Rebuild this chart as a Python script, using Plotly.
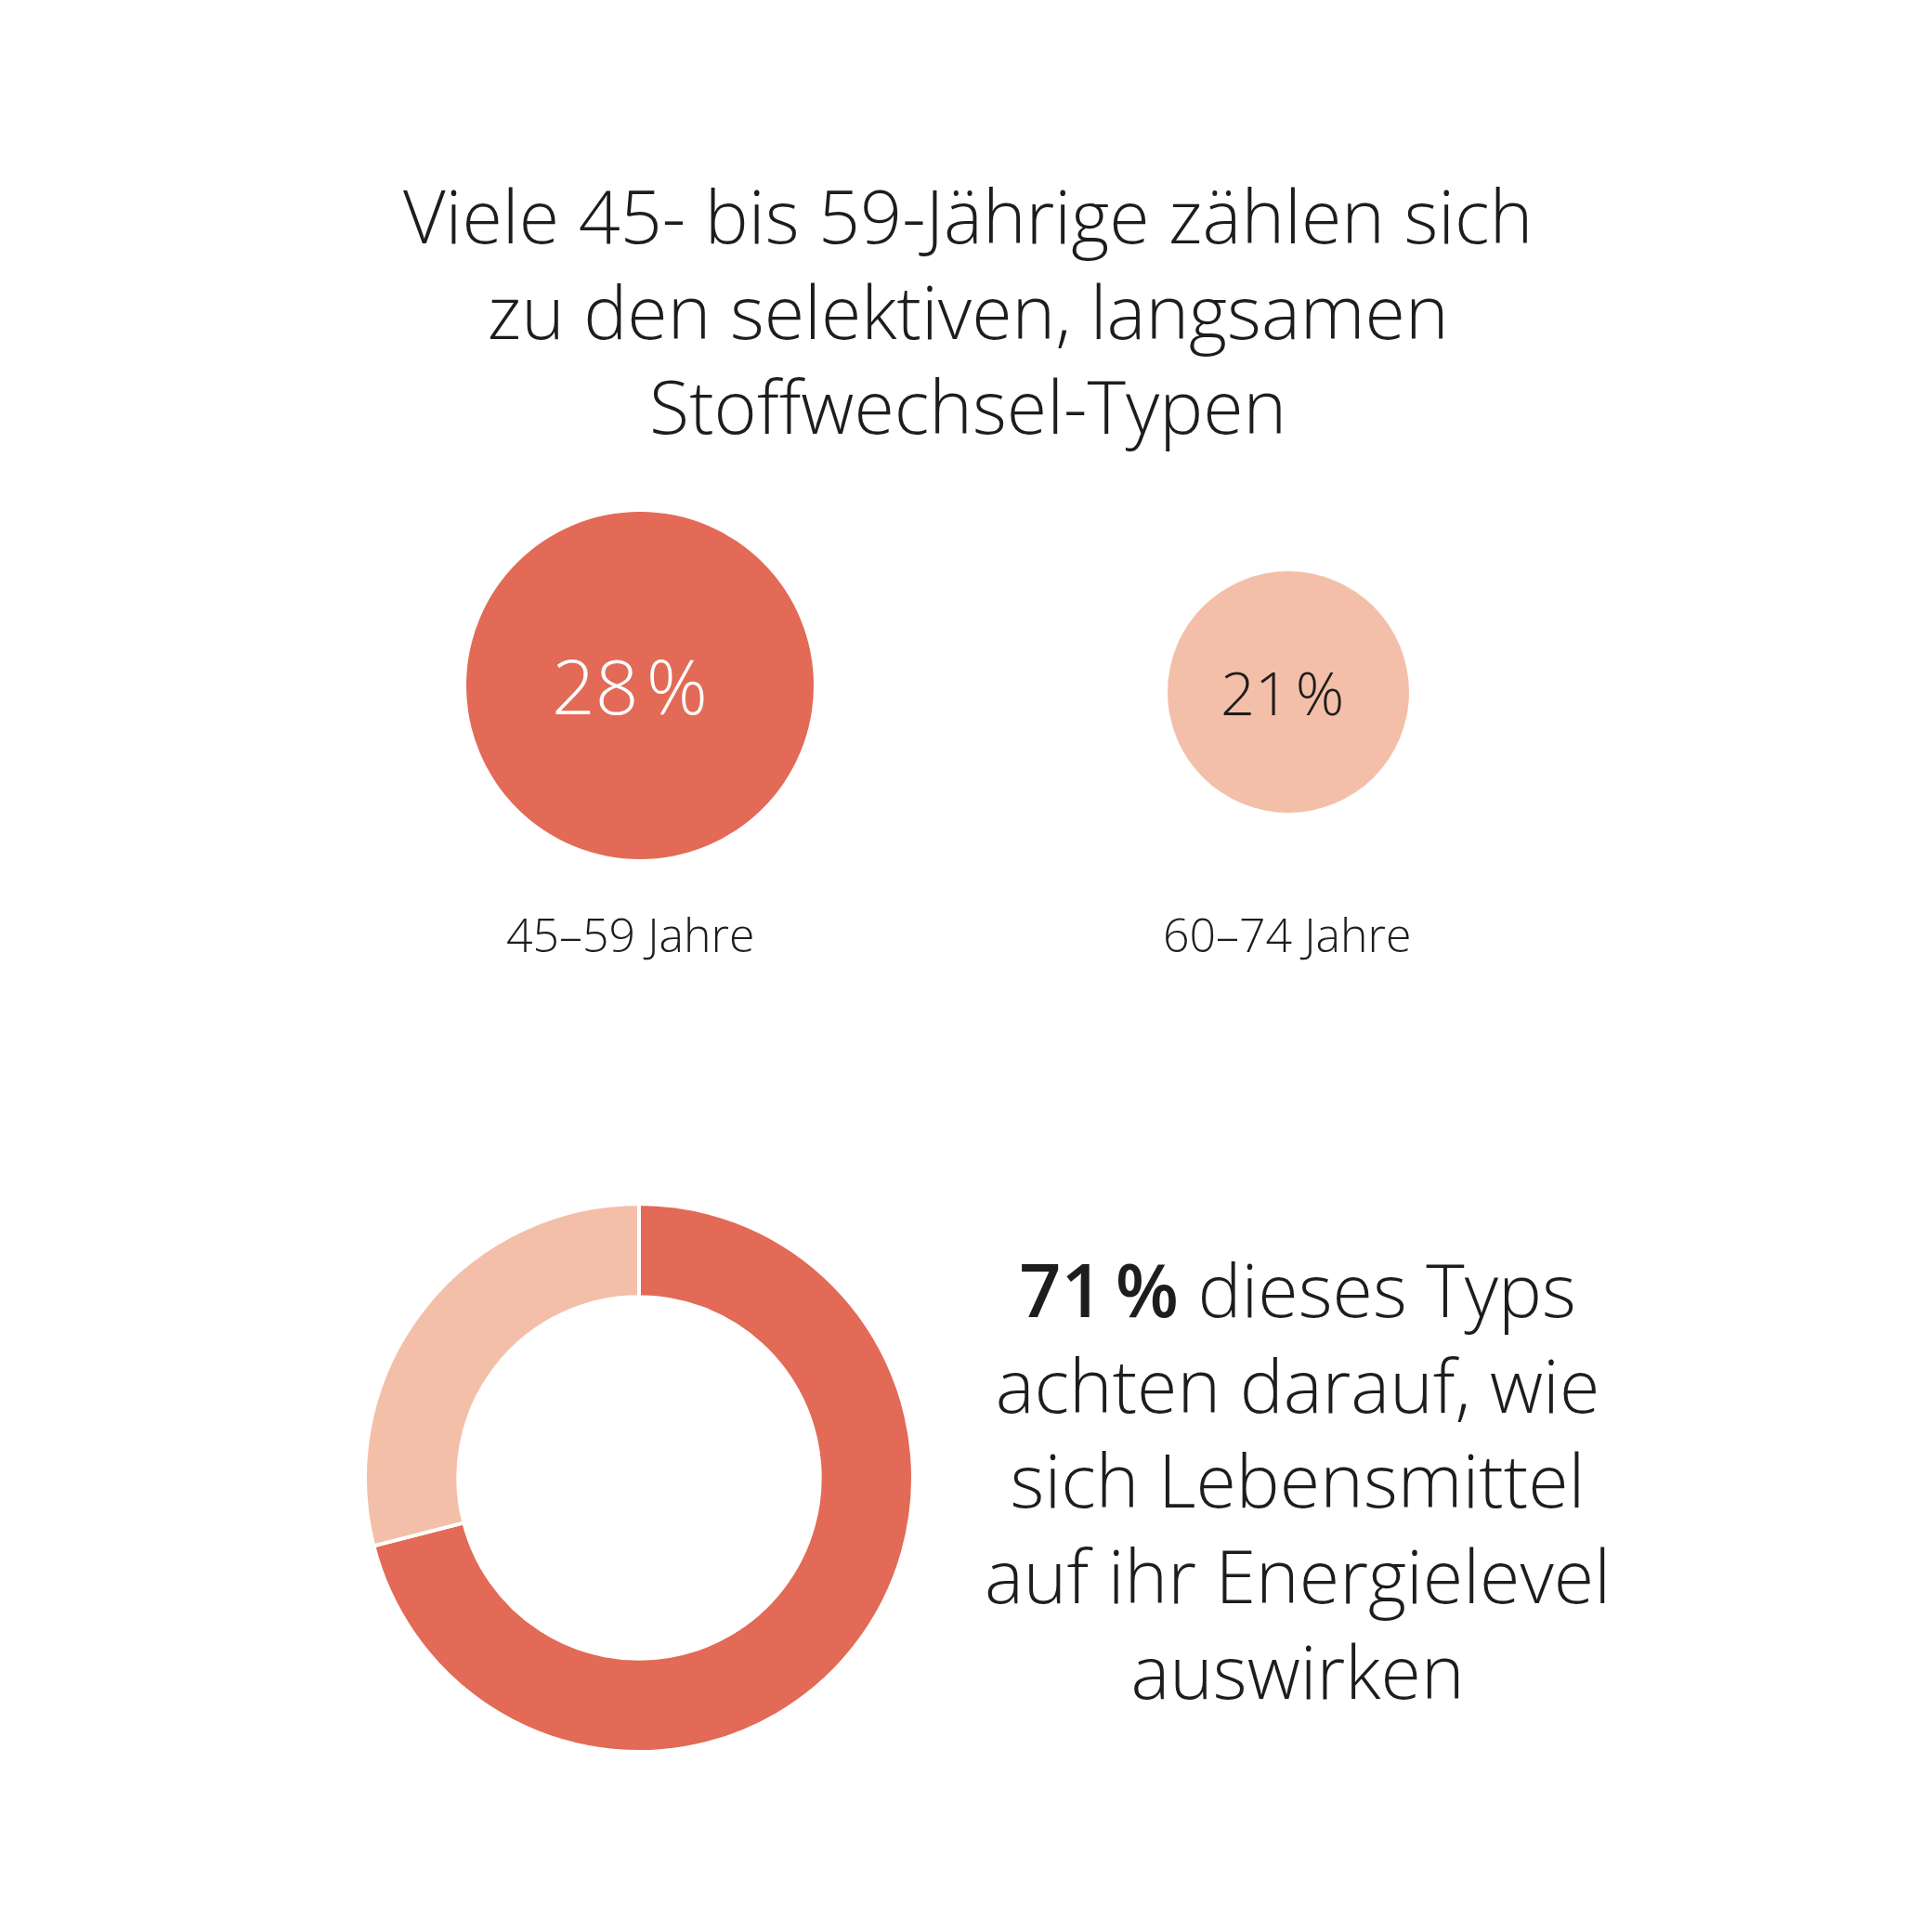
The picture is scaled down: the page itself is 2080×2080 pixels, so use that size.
import plotly.graph_objects as go

# --- data ---
title_lines = ["Viele 45- bis 59-Jährige zählen sich",
               "zu den selektiven, langsamen",
               "Stoffwechsel-Typen"]
age_groups = ["45–59 Jahre", "60–74 Jahre"]
shares = [28, 21]
donut_labels = ["achten darauf", "übrige"]
donut_values = [71, 29]
note_lines = ["dieses Typs", "achten darauf, wie", "sich Lebensmittel",
              "auf ihr Energielevel", "auswirken"]

DARK = "#E26A56"
LIGHT = "#F4BFA8"
INK = "#1d1d1b"
FONT = "Open Sans"

W = H = 2080
OFF = 11  # page offset seen in the screenshot


def px(x, y):
    return (x - OFF) / W, 1 - (y - OFF) / H


def dom(cx, cy, r):
    # pixel centre/radius -> paper domain
    x0, y0 = px(cx, cy)
    return dict(x=[x0 - r / W, x0 + r / W], y=[y0 - r / H, y0 + r / H])


def text(x, y, s, size, weight=300, color=INK):
    xp, yp = px(x, y)
    fig.add_annotation(x=xp, y=yp, xref="paper", yref="paper", text=s,
                       showarrow=False, xanchor="center", yanchor="middle",
                       align="center",
                       font=dict(family=FONT, size=size, color=color, weight=weight))


fig = go.Figure()

# two single-value "bubbles"
circles = [(692, 741, 187, DARK), (1390, 748, 130, LIGHT)]
value_pos = [(681, 740, "white", 82), (1383, 748, INK, 65)]
label_x = [681, 1388]
for grp, val, lx, (cx, cy, r, col), (vx, vy, tcol, tsize) in zip(
        age_groups, shares, label_x, circles, value_pos):
    fig.add_trace(go.Pie(
        labels=[grp], values=[val], domain=dom(cx, cy, r),
        marker=dict(colors=[col], line=dict(width=0)),
        textinfo="none", hoverinfo="label+value", sort=False, showlegend=False,
    ))
    text(vx, vy, f"{val}\u200a%", tsize, color=tcol)
    text(lx, 1009, grp, 50)

# donut
fig.add_trace(go.Pie(
    labels=donut_labels, values=donut_values, hole=0.66, sort=False,
    direction="clockwise", rotation=0, domain=dom(691, 1594, 295),
    marker=dict(colors=[DARK, LIGHT], line=dict(color="white", width=4)),
    textinfo="none", showlegend=False,
))

note = (f"<span style='font-weight:600'>{donut_values[0]}\u2009%</span> "
        + "<br>".join(note_lines))
text(1400, 1596, note, 79)

text(1045, 337, "<br>".join(title_lines), 79)

fig.update_layout(width=W, height=H, margin=dict(l=0, r=0, t=0, b=0),
                  paper_bgcolor="white", plot_bgcolor="white")

fig.write_html("out.html")
